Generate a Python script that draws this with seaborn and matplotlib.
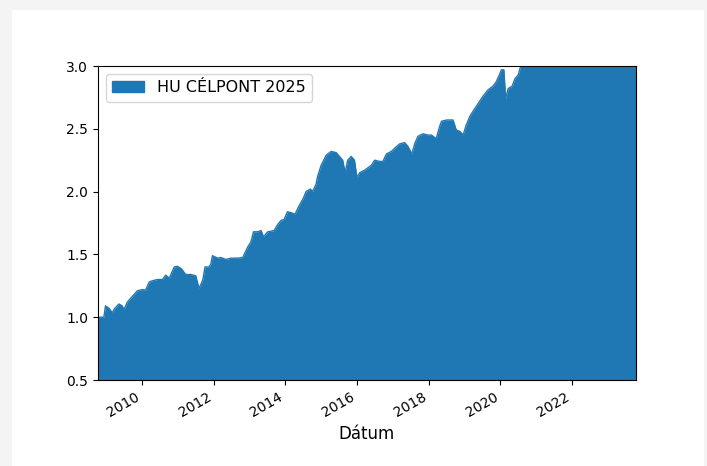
import matplotlib
matplotlib.use("Agg")
import numpy as np
import pandas as pd
import matplotlib.pyplot as plt
import matplotlib.dates as mdates
import seaborn as sns
from matplotlib.patches import Patch, Rectangle

# Fund index values
SERIES_NAME = "HU CÉLPONT 2025"
X_LABEL = "Dátum"

DATES = [
    "2008-10-09", "2008-12-08", "2008-12-24", "2009-01-30", "2009-03-03", "2009-03-28",
    "2009-05-11", "2009-06-13", "2009-07-01", "2009-08-04", "2009-09-06", "2009-11-14",
    "2010-01-04", "2010-02-06", "2010-03-15", "2010-04-16", "2010-06-07", "2010-07-28",
    "2010-08-30", "2010-10-05", "2010-11-25", "2010-12-28", "2011-02-06", "2011-03-22",
    "2011-05-12", "2011-07-02", "2011-08-04", "2011-08-29", "2011-09-13", "2011-10-05",
    "2011-11-14", "2011-12-02", "2011-12-20", "2012-02-10", "2012-03-14", "2012-05-04",
    "2012-06-25", "2012-09-02", "2012-10-24", "2012-11-07", "2012-12-14", "2013-01-15",
    "2013-02-10", "2013-03-26", "2013-04-28", "2013-05-23", "2013-07-06", "2013-09-09",
    "2013-10-16", "2013-11-18", "2013-12-20", "2014-01-22", "2014-03-07", "2014-04-09",
    "2014-05-23", "2014-07-05", "2014-07-31", "2014-09-13", "2014-10-05", "2014-11-10",
    "2014-11-25", "2015-01-01", "2015-02-21", "2015-04-13", "2015-06-03", "2015-07-06",
    "2015-08-08", "2015-09-02", "2015-09-28", "2015-11-03", "2015-12-06", "2016-01-01",
    "2016-01-27", "2016-03-18", "2016-05-27", "2016-06-29", "2016-08-19", "2016-09-21",
    "2016-10-27", "2016-12-17", "2017-01-19", "2017-03-11", "2017-05-01", "2017-06-03",
    "2017-07-13", "2017-08-11", "2017-09-13", "2017-11-03", "2017-12-24", "2018-01-30",
    "2018-03-18", "2018-04-23", "2018-05-12", "2018-07-02", "2018-09-06", "2018-10-09",
    "2018-11-14", "2018-12-17", "2019-01-19", "2019-02-25", "2019-03-29", "2019-05-19",
    "2019-07-09", "2019-08-29", "2019-10-19", "2019-11-21", "2019-12-28", "2020-01-12",
    "2020-02-06", "2020-02-24", "2020-03-21", "2020-05-01", "2020-05-30", "2020-07-02",
    "2020-07-20", "2020-08-04", "2020-10-20", "2021-03-15", "2021-09-15", "2022-03-15",
    "2022-09-15", "2023-03-15", "2023-10-15",
]
VALUES = [
    1.00, 1.00, 1.09, 1.07, 1.035, 1.07,
    1.105, 1.09, 1.06, 1.12, 1.15, 1.21,
    1.22, 1.215, 1.28, 1.29, 1.30, 1.30,
    1.335, 1.31, 1.40, 1.405, 1.385, 1.34,
    1.34, 1.33, 1.23, 1.27, 1.30, 1.40,
    1.40, 1.42, 1.49, 1.47, 1.475, 1.46,
    1.47, 1.47, 1.475, 1.50, 1.56, 1.60,
    1.68, 1.68, 1.69, 1.64, 1.68, 1.69,
    1.74, 1.77, 1.78, 1.84, 1.83, 1.82,
    1.89, 1.95, 2.00, 2.02, 2.00, 2.06,
    2.12, 2.21, 2.29, 2.32, 2.31, 2.28,
    2.25, 2.15, 2.25, 2.28, 2.25, 2.11,
    2.15, 2.17, 2.21, 2.25, 2.24, 2.24,
    2.30, 2.32, 2.345, 2.38, 2.39, 2.36,
    2.30, 2.38, 2.44, 2.46, 2.45, 2.45,
    2.42, 2.52, 2.56, 2.57, 2.57, 2.49,
    2.48, 2.45, 2.53, 2.60, 2.64, 2.70,
    2.76, 2.81, 2.84, 2.875, 2.94, 2.97,
    2.97, 2.74, 2.82, 2.84, 2.90, 2.93,
    2.98, 3.01, 3.10, 3.25, 3.45, 3.35,
    3.30, 3.45, 3.55,
]

BLUE = "#1f77b4"

df = pd.DataFrame({X_LABEL: pd.to_datetime(DATES), SERIES_NAME: VALUES})

fig = plt.figure(figsize=(7.07, 4.66), dpi=100, facecolor="#f4f4f4")
# white card inside the light grey border
fig.patches.append(Rectangle((12 / 707, 0), 692 / 707, 1 - 10 / 466,
                             transform=fig.transFigure, facecolor="white",
                             edgecolor="none", zorder=-1))
ax = fig.add_axes([98 / 707, 1 - 380 / 466, 538 / 707, 314 / 466])

sns.lineplot(data=df, x=X_LABEL, y=SERIES_NAME, ax=ax, color=BLUE, linewidth=1)
ax.fill_between(df[X_LABEL], df[SERIES_NAME], 0, color=BLUE, linewidth=0)

ax.set_ylim(0.5, 3.0)
ax.set_xlim(df[X_LABEL].iloc[0], df[X_LABEL].iloc[-1])
ax.xaxis.set_major_locator(mdates.YearLocator(2))
ax.xaxis.set_major_formatter(mdates.DateFormatter("%Y"))
plt.setp(ax.get_xticklabels(), rotation=30, ha="right")
ax.set_ylabel("")
ax.set_xlabel(X_LABEL, fontsize=12)

ax.legend(handles=[Patch(color=BLUE, label=SERIES_NAME)], loc="upper left",
          fontsize=11.5)

fig.savefig("out.png", dpi=100, facecolor=fig.get_facecolor())
